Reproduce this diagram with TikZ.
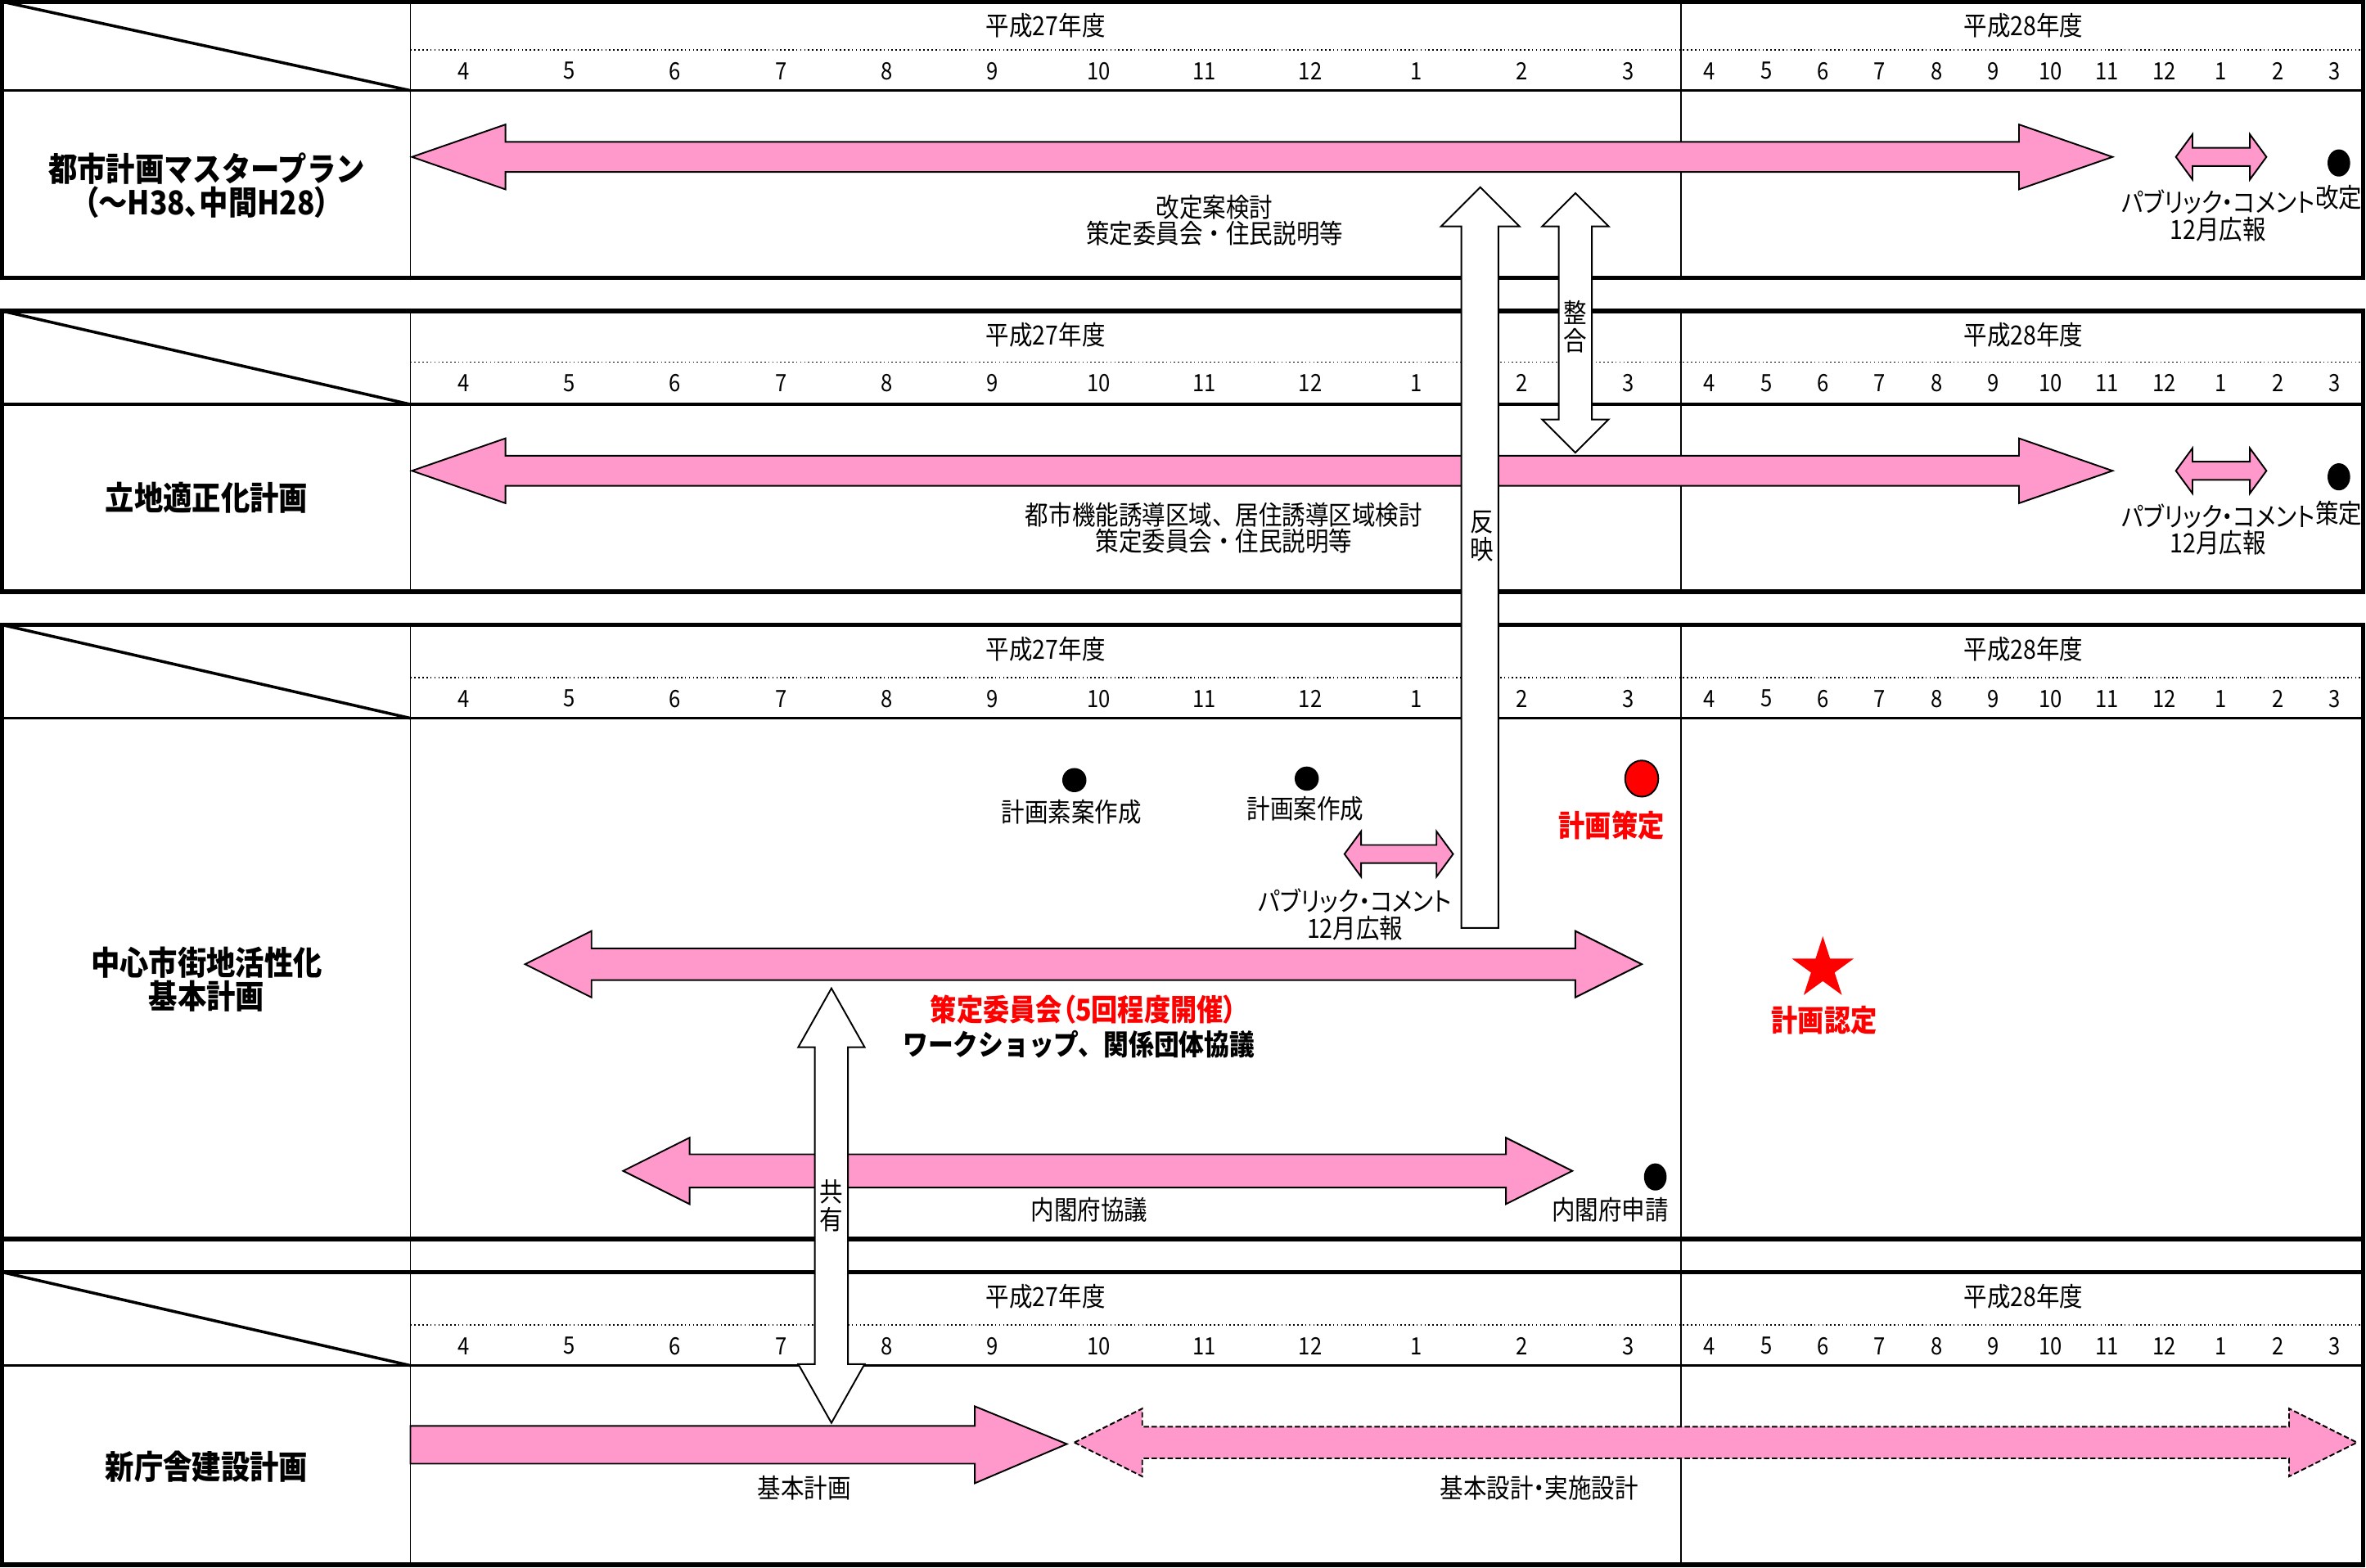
\documentclass[tikz,border=0pt]{standalone}
\usepackage{fontspec}
\setmainfont[FakeStretch=0.88]{Noto Sans CJK JP}
\newfontfamily\pfont[FakeStretch=0.88,RawFeature=+palt]{Noto Sans CJK JP}
\usetikzlibrary{shapes.geometric}
\definecolor{pinkA}{RGB}{255,153,204}
\definecolor{redA}{RGB}{255,0,0}
\newcommand\HDA[7]{\draw[#1] (#2,#4) -- ({#2+#7},{#4-#5}) -- ({#2+#7},{#4-#6}) -- ({#3-#7},{#4-#6}) -- ({#3-#7},{#4-#5}) -- (#3,#4) -- ({#3-#7},{#4+#5}) -- ({#3-#7},{#4+#6}) -- ({#2+#7},{#4+#6}) -- ({#2+#7},{#4+#5}) -- cycle;}
\newcommand\VDA[7]{\draw[#1] (#2,#3) -- ({#2+#5},{#3+#7}) -- ({#2+#6},{#3+#7}) -- ({#2+#6},{#4-#7}) -- ({#2+#5},{#4-#7}) -- (#2,#4) -- ({#2-#5},{#4-#7}) -- ({#2-#6},{#4-#7}) -- ({#2-#6},{#3+#7}) -- ({#2-#5},{#3+#7}) -- cycle;}
\tikzset{
 thk/.style={line width=1.7pt},
 thn/.style={line width=0.6pt},
 med/.style={line width=1.1pt},
 dotln/.style={line width=0.5pt, densely dotted},
 pinkarrow/.style={fill=pinkA, draw=black, line width=0.6pt, line join=miter},
 dasharrow/.style={fill=pinkA, draw=black, line width=0.6pt, dash pattern=on 2pt off 1pt},
 whitearrow/.style={fill=white, draw=black, line width=0.6pt},
 lbl/.style={inner sep=0, font=\fontsize{10}{10}\selectfont, align=center},
 plbl/.style={inner sep=0, font=\fontsize{10}{10}\selectfont\pfont, align=center},
 mon/.style={inner sep=0, font=\fontsize{9}{9}\selectfont},
 ttl/.style={inner sep=0, font=\fontsize{12.4}{12.8}\selectfont\bfseries, align=center},
 redlbl/.style={inner sep=0, font=\fontsize{11.3}{12}\selectfont\bfseries, text=redA},
 blklbl/.style={inner sep=0, font=\fontsize{10.8}{12}\selectfont\bfseries},
 bdot/.style={ellipse, fill=black, inner sep=0, minimum width=0.3cm, minimum height=0.36cm},
}
\begin{document}
\begin{tikzpicture}[x=0.02cm,y=-0.02cm]
\useasboundingbox (0,0) rectangle (1568,1039);
% table frames
\foreach \t/\d/\h/\b in {1/33/60/184, 206/240/268/392, 414/449/476/821, 843/878/905/1037}{
  \draw[thn] (272,\t) -- (272,\b);
  \draw[thn] (1114,\t) -- (1114,\b);
  \draw[dotln] (272,\d) -- (1566,\d);
  \draw[med] (1,\h) -- (1566,\h);
  \draw[med] (1,\t) -- (272,\h);
  \draw[thk] (1,\t) rectangle (1566,\b);
  \node[lbl] (y27-\t) at (693,{\t+16}) {平成27年度};
  \node[lbl] (y28-\t) at (1341,{\t+16}) {平成28年度};
  \foreach \m [count=\i] in {4,5,6,7,8,9,10,11,12,1,2,3}{
    \node[mon] (ma\i-\t) at ({272+70.17*(\i-0.5)},{\d+14}) {\m};
    \node[mon] (mb\i-\t) at ({1114+37.67*(\i-0.5)},{\d+14}) {\m};
  }
}
\draw[thn] (272,821) -- (272,843);
\draw[thn] (1114,821) -- (1114,843);
\draw[thk] (1,821) rectangle (1566,843);

% titles
\node[ttl] (t1) at (137,123) {都市計画マスタープラン\\{\pfont （～H38、中間H28）}};
\node[ttl] (t2) at (137,330) {立地適正化計画};
\node[ttl] (t3) at (137,649) {中心市街地活性化\\基本計画};
\node[ttl] (t4) at (137,972) {新庁舎建設計画};

% section 1
\HDA{pinkarrow}{273}{1400}{104}{21.5}{10}{62}
\HDA{pinkarrow}{1442}{1502}{104}{15}{6}{11}
\node[bdot] (d1) at (1550,108) {};
\node[lbl] (s1a) at (805,146) {改定案検討\\策定委員会・住民説明等};
\node[plbl] (s1b) at (1470,143) {パブリック・コメント\\12月広報};
\node[lbl] (s1c) at (1550,131) {改定};

% section 2
\HDA{pinkarrow}{273}{1400}{312}{21.5}{10}{62}
\HDA{pinkarrow}{1442}{1502}{312}{15}{6}{11}
\node[bdot] (d2) at (1550,316) {};
\node[lbl] (s2a) at (811,350) {都市機能誘導区域、居住誘導区域検討\\策定委員会・住民説明等};
\node[plbl] (s2b) at (1470,351) {パブリック・コメント\\12月広報};
\node[lbl] (s2c) at (1550,340) {策定};

% section 3
\HDA{pinkarrow}{348}{1088}{639}{22}{10.5}{44}
\HDA{pinkarrow}{413}{1042}{776}{22}{11}{44}
\HDA{pinkarrow}{891}{963}{566}{15}{6}{11}
\node[bdot, minimum width=0.32cm, minimum height=0.32cm] (d3) at (712,517) {};
\node[bdot, minimum width=0.32cm, minimum height=0.32cm] (d4) at (866,516) {};
\node[ellipse, fill=redA, draw=black, line width=0.6pt, inner sep=0, minimum width=0.44cm, minimum height=0.48cm] (d5) at (1088,516) {};
\node[bdot] (d6) at (1097,780) {};
\node[star, star points=5, star point ratio=2.618, fill=redA, inner sep=0, minimum size=0.86cm] (st) at (1208,642) {};
\node[lbl] (s3a) at (710,538) {計画素案作成};
\node[lbl] (s3b) at (865,536) {計画案作成};
\node[redlbl] (s3c) at (1068,547) {計画策定};
\node[plbl] (s3d) at (898,606) {パブリック・コメント\\12月広報};
\node[redlbl] (s3e) at (718,669) {\pfont 策定委員会（5回程度開催）};
\node[blklbl] (s3f) at (715,692) {ワークショップ、関係団体協議};
\node[redlbl] (s3g) at (1209,676) {計画認定};
\node[lbl] (s3h) at (722,802) {内閣府協議};
\node[lbl] (s3i) at (1067,802) {内閣府申請};

% section 4
\draw[pinkarrow] (272,945) -- (646,945) -- (646,932) -- (707,957) -- (646,983) -- (646,970) -- (272,970) -- cycle;
\HDA{dasharrow}{712}{1562}{956}{22.5}{10.5}{45}
\node[lbl] (s4a) at (533,986) {基本計画};
\node[plbl] (s4b) at (1020,986) {基本設計・実施設計};

% white connectors
\draw[whitearrow] (981,124) -- (1007,150) -- (993,150) -- (993,615) -- (968.5,615) -- (968.5,150) -- (955,150) -- cycle;
\VDA{whitearrow}{1044}{128}{300}{22}{11}{22}
\VDA{whitearrow}{551}{655}{943}{22}{11}{39}
\node[lbl] (w1) at (982,346) {反};
\node[lbl] (w2) at (982,364) {映};
\node[lbl] (w3) at (1044,207) {整};
\node[lbl] (w4) at (1044,226) {合};
\node[lbl] (w5) at (551,790) {共};
\node[lbl] (w6) at (551,808) {有};
\end{tikzpicture}
\end{document}
